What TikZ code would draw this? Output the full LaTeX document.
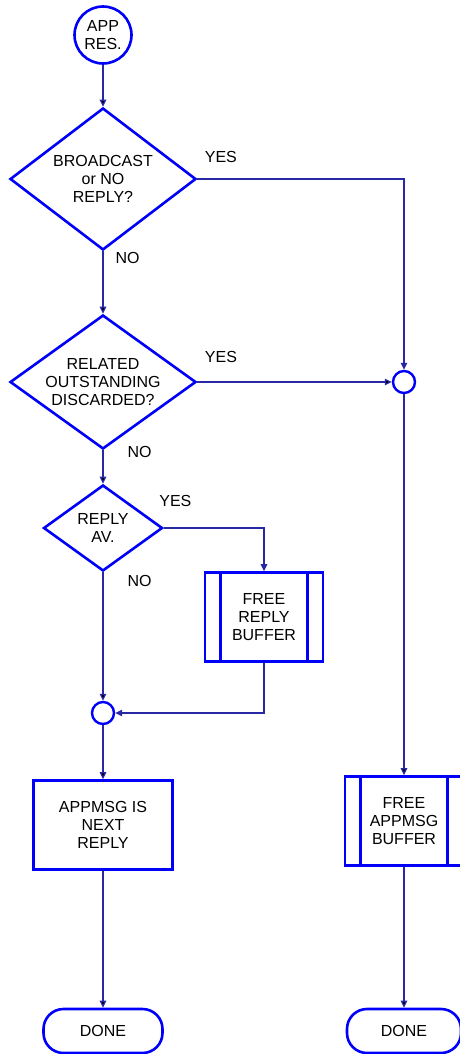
\documentclass[tikz,border=0pt]{standalone}
\usepackage{fontspec}
\setmainfont{Liberation Sans}
\usetikzlibrary{positioning,shapes.geometric,arrows.meta}

\definecolor{boxblue}{RGB}{0,0,250}
\definecolor{lineblue}{RGB}{40,40,165}

\begin{document}
\begin{tikzpicture}[x=1pt, y=-1pt,
    every node/.style={font=\fontsize{16}{18}\selectfont, align=center, text=black},
    terminal/.style={circle, draw=boxblue, line width=2.6pt, minimum size=57pt, inner sep=0pt},
    decision/.style={diamond, draw=boxblue, line width=2.6pt, inner sep=0pt},
    process/.style={rectangle, draw=boxblue, line width=2.6pt, minimum width=139pt, minimum height=89pt},
    subproc/.style={process, minimum width=118pt,
      path picture={\draw[boxblue, line width=2.6pt]
        ([xshift=15.5pt]path picture bounding box.north west) -- ([xshift=15.5pt]path picture bounding box.south west)
        ([xshift=-15.5pt]path picture bounding box.north east) -- ([xshift=-15.5pt]path picture bounding box.south east);}},
    joint/.style={circle, draw=boxblue, line width=2.4pt, minimum size=22pt, inner sep=0pt},
    done/.style={rectangle, rounded corners=20pt, draw=boxblue, line width=2.6pt, minimum width=119pt, minimum height=44pt},
    flow/.style={draw=lineblue, line width=1.2pt, -{Triangle[length=7pt,width=6.5pt]}},
    lbl/.style={inner sep=0pt}]

  \useasboundingbox (0,0) rectangle (460,1054);

  % main column
  \node[terminal] (start) at (103,35) {APP\\RES.};
  \node[decision, aspect=1.31, minimum width=186pt, minimum height=142pt] (bcast)
       [below of=start, node distance=144pt] {BROADCAST\\or NO\\REPLY?};
  \node[decision, aspect=1.39, minimum width=186pt, minimum height=134pt] (related)
       [below of=bcast, node distance=203pt] {RELATED\\OUTSTANDING\\DISCARDED?};
  \node[decision, aspect=1.38, minimum width=119pt, minimum height=86pt] (replyav)
       [below of=related, node distance=146pt] {REPLY\\AV.};
  \node[joint] (join2) [below of=replyav, node distance=185pt] {};
  \node[process] (nextreply) [below of=join2, node distance=112pt] {APPMSG IS\\NEXT\\REPLY};
  \node[done] (done1) [below of=nextreply, node distance=206pt] {DONE};

  % side branches
  \node[subproc] (freereply) [right of=replyav, node distance=161pt, yshift=-89pt] {FREE\\REPLY\\BUFFER};
  \node[joint] (join1) [right of=related, node distance=301pt] {};
  \node[subproc] (freeapp) [below of=join1, node distance=439pt] {FREE\\APPMSG\\BUFFER};
  \node[done, minimum width=114pt] (done2) [below of=freeapp, node distance=210pt] {DONE};

  \path[flow] (start) edge (bcast)
        (bcast) edge node[lbl, pos=0.1, right=12pt] {NO} (related)
        (related) edge node[lbl, pos=0, above right=19pt and 7pt] {YES} (join1)
        (related) edge node[lbl, pos=0.05, right=24pt] {NO} (replyav)
        (replyav) edge node[lbl, pos=0.07, right=24pt] {NO} (join2)
        (join2) edge (nextreply)
        (nextreply) edge (done1)
        (join1) edge (freeapp)
        (freeapp) edge (done2)
        ;

  \draw[flow] (bcast) -| node[lbl, pos=0, above right=16pt and 7pt] {YES} (join1);
  \draw[flow] (replyav) -| node[lbl, pos=0, above right=21pt and -5pt] {YES} (freereply);
  \draw[flow] (freereply) |- (join2);
\end{tikzpicture}
\end{document}
